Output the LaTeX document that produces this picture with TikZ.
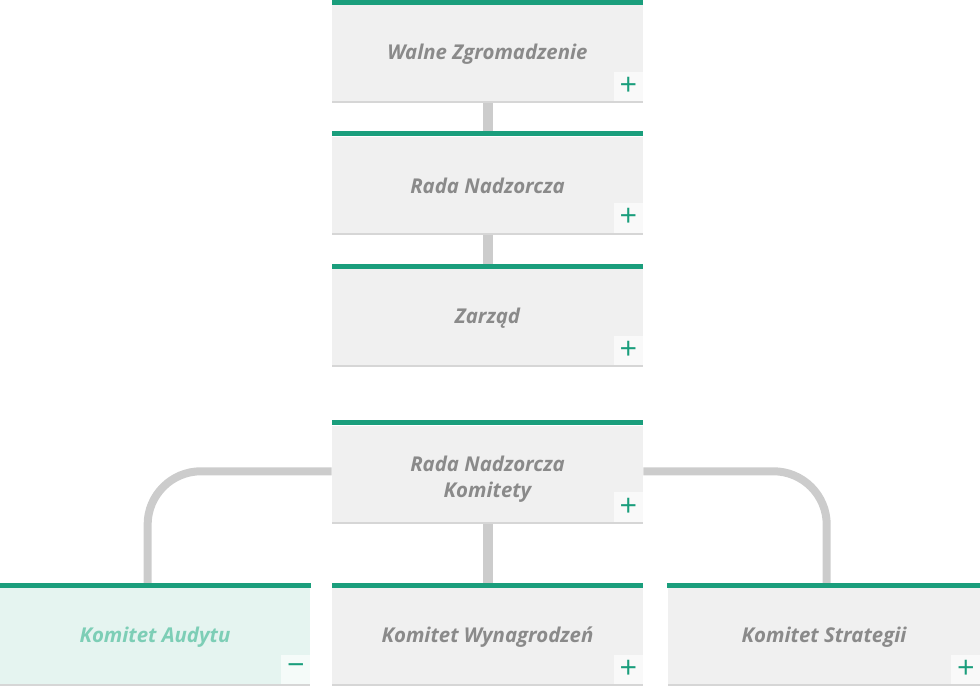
\documentclass[tikz,border=0pt]{standalone}
\usepackage{fontspec}
\setmainfont{Open Sans}
\usetikzlibrary{positioning,backgrounds}

\definecolor{accent}{RGB}{26,158,124}
\definecolor{boxgray}{RGB}{240,240,240}
\definecolor{textgray}{RGB}{138,138,138}
\definecolor{linegray}{RGB}{204,204,204}
\definecolor{shadowgray}{RGB}{214,214,214}
\definecolor{plusfill}{RGB}{249,249,249}
\definecolor{mintfill}{RGB}{229,244,240}
\definecolor{minttext}{RGB}{125,206,182}

\begin{document}
\begin{tikzpicture}[
            x=0.75pt, y=-0.75pt,
            node distance=24.75pt,
            every node/.style={font=\bfseries\itshape\fontsize{15.3}{19.5}\selectfont},
            unit/.style={
                rectangle,
                fill=boxgray,
                text=textgray,
                inner sep=0pt,
                align=center,
                minimum width=233.25pt,
                minimum height=73.5pt,
                path picture={
                    \fill[shadowgray] (path picture bounding box.south west) rectangle ([yshift=1.5pt]path picture bounding box.south east);
                },
                append after command={
                    \pgfextra{\fill[accent] (\tikzlastnode.north west) rectangle ([yshift=3.75pt]\tikzlastnode.north east);}
                }
            },
            toggle/.style={
                rectangle,
                fill=plusfill,
                text=accent,
                inner sep=0pt,
                minimum size=22pt,
                font=\fontsize{23}{23}\selectfont
            },
            link/.style={draw=linegray, line width=7.5pt},
            curve/.style={draw=linegray, line width=6pt, rounded corners=40pt}
        ]
        \useasboundingbox (0,0) rectangle (980,686);

        % Nodes
        \node[unit] (walne) at (487.5,54) {Walne Zgromadzenie};
        \node[unit, below=of walne] (rada) {Rada Nadzorcza};
        \node[unit, below=25.5pt of rada] (zarzad) {Zarząd};
        \node[unit, below=43.5pt of zarzad] (komitety) {\raisebox{-3.4pt}[\height][\depth]{\begin{tabular}{@{}c@{}}Rada Nadzorcza\\Komitety\end{tabular}}};
        \node[unit, below=48pt of komitety] (wynagr) {Komitet Wynagrodzeń};
        \node[unit, fill=mintfill, text=minttext, left=15.75pt of wynagr] (audyt) {Komitet Audytu};
        \node[unit, minimum width=234.75pt, right=18pt of wynagr] (strategia) {Komitet Strategii};

        % Toggles
        \node[toggle, anchor=south east] (t1) at ([yshift=1.5pt]walne.south east) {+};
        \node[toggle, anchor=south east] (t2) at ([yshift=1.5pt]rada.south east) {+};
        \node[toggle, anchor=south east] (t3) at ([yshift=1.5pt]zarzad.south east) {+};
        \node[toggle, anchor=south east] (t4) at ([yshift=1.5pt]komitety.south east) {+};
        \node[toggle, anchor=south east] (t5) at ([yshift=1.5pt]wynagr.south east) {+};
        \node[toggle, fill=white!60!mintfill, anchor=south east] (t6) at ([yshift=1.5pt]audyt.south east) {−};
        \node[toggle, anchor=south east] (t7) at ([yshift=1.5pt]strategia.south east) {+};

        % Connectors
        \begin{scope}[on background layer]
        \draw[link] (walne) -- (rada);
        \draw[link] (rada) -- (zarzad);
        \draw[link] (komitety) -- (wynagr);
        \draw[curve] ([yshift=2.5pt]komitety.west) -| ([xshift=-5.5pt]audyt.north);
        \draw[curve] ([yshift=2.5pt]komitety.east) -| ([xshift=2pt]strategia.north);
        \end{scope}

        \end{tikzpicture}
\end{document}
